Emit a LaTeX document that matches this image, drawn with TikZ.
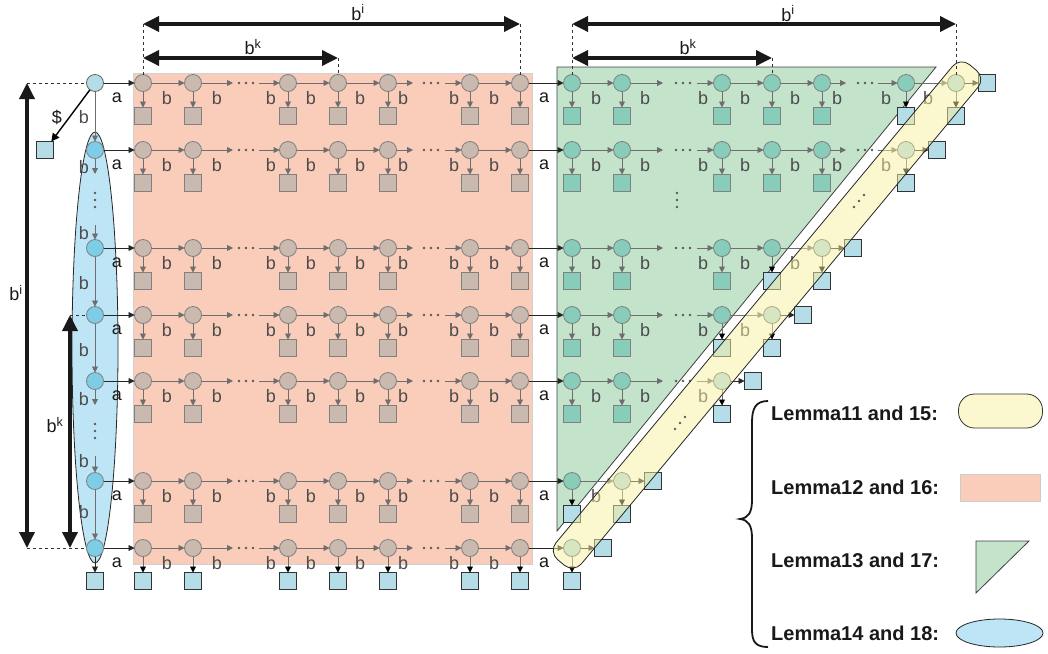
\documentclass[tikz,border=0pt]{standalone}
\usepackage{fontspec}
\setmainfont{Liberation Sans}
\usetikzlibrary{arrows.meta,shapes.geometric,calc}
\definecolor{pinkbg}{HTML}{F9CDB9}
\definecolor{taupe}{HTML}{C9B9AF}
\definecolor{greenbg}{HTML}{C3E3CB}
\definecolor{tealc}{HTML}{88CCBA}
\definecolor{lblue}{HTML}{B5DDE8}
\definecolor{ellbg}{HTML}{BEE5F6}
\definecolor{ellblue}{HTML}{7DCDE6}
\definecolor{bandy}{HTML}{F7EF9F}
\definecolor{bandleg}{HTML}{FBF7CF}
\definecolor{linegray}{HTML}{6E6E6E}
\tikzset{
 nb/.style={inner sep=0pt, outer sep=0pt, line width=0.8pt},
 circp/.style={nb, circle, minimum size=17pt, fill=taupe, draw=black!50},
 circg/.style={nb, circle, minimum size=17pt, fill=tealc, draw=black!50},
 circb/.style={nb, circle, minimum size=17pt, fill=lblue, draw=black!60},
 circe/.style={nb, circle, minimum size=17pt, fill=ellblue, draw=black!50},
 sqp/.style={nb, rectangle, minimum size=17pt, fill=taupe, draw=black!50},
 sqg/.style={nb, rectangle, minimum size=17pt, fill=tealc, draw=black!50},
 sqb/.style={nb, rectangle, minimum size=17pt, fill=lblue, draw=black!80},
 arr/.style={draw=linegray, line width=0.9pt, -{Triangle[length=6pt,width=6pt]}},
 arrbk/.style={draw=linegray, line width=0.9pt, -{Triangle[length=6pt,width=6pt,color=black]}},
 arrk/.style={draw=black!85, line width=0.9pt, -{Triangle[length=6pt,width=6pt]}},
 lbl/.style={font=\fontsize{18}{18}\selectfont, text=black!70, inner sep=0pt},
 lbla/.style={font=\fontsize{18}{18}\selectfont, text=black!90, inner sep=0pt},
 dimarrow/.style={line width=3.5pt, black!90, {Triangle[length=16pt,width=15pt]}-{Triangle[length=16pt,width=15pt]}},
 dashln/.style={black!80, line width=0.8pt, dash pattern=on 3pt off 3pt},
 leg/.style={font=\fontsize{20}{20}\selectfont\bfseries, text=black!90, anchor=west, inner sep=0pt},
}
\newcommand\hdt[2]{\fill[black!65] (#1-7,#2) circle[radius=1.3pt] (#1,#2) circle[radius=1.3pt] (#1+7,#2) circle[radius=1.3pt];}
\newcommand\vdt[2]{\fill[black!65] (#1,#2-7) circle[radius=1.3pt] (#1,#2) circle[radius=1.3pt] (#1,#2+7) circle[radius=1.3pt];}
\newcommand\ddt[2]{\fill[black!65] (#1-5,#2+6) circle[radius=1.3pt] (#1,#2) circle[radius=1.3pt] (#1+5,#2-6) circle[radius=1.3pt];}
\begin{document}
\begin{tikzpicture}[x=1pt,y=-1pt]
\useasboundingbox (0,0) rectangle (1048,653);
% regions
\filldraw[fill=pinkbg, draw=black!18, line width=0.8pt] (133,73) rectangle (532,564);
\filldraw[fill=greenbg, draw=black!75, line width=0.8pt] (557,67) -- (936,67) -- (557,531) -- cycle;
\node[ellipse, fill=ellbg, draw=black!85, line width=0.8pt, minimum width=46pt, minimum height=431pt, inner sep=0pt] (lem14) at (95,347.5) {};

% pink grid
\foreach \y [count=\ri from 0] in {83,150,248,315,381,481,548} {
  \foreach \x [count=\ci from 0] in {143,193,288,338,388,470,520} {
    \node[circp] (p\ri\ci) at (\x,\y) {};
    \ifnum\ri=6
      \node[sqb] (sp\ri\ci) at (\x,\y+33) {};
      \draw[arrbk] (p\ri\ci) -- (sp\ri\ci);
    \else
      \node[sqp] (sp\ri\ci) at (\x,\y+33) {};
      \draw[arr] (p\ri\ci) -- (sp\ri\ci);
    \fi
  }
  \coordinate (pda\ri) at (233,\y);
  \coordinate (pdb\ri) at (259,\y);
  \coordinate (pdc\ri) at (413,\y);
  \coordinate (pdd\ri) at (445,\y);
  \draw[arr] (p\ri0) -- (p\ri1);
  \draw[arr] (p\ri1) -- (pda\ri);
  \draw[arr] (pdb\ri) -- (p\ri2);
  \draw[arr] (p\ri2) -- (p\ri3);
  \draw[arr] (p\ri3) -- (p\ri4);
  \draw[arr] (p\ri4) -- (pdc\ri);
  \draw[arr] (pdd\ri) -- (p\ri5);
  \draw[arr] (p\ri5) -- (p\ri6);
  \hdt{246}{\y}
  \hdt{431}{\y}
  \foreach \lx in {167,217,271,311,360,403,454,494} {
    \node[lbl] (bp\ri-\lx) at (\lx,\y+15) {b};
  }
}

% green grid
\foreach \y [count=\ri from 0] in {83,150,248,315,381,481,548} {
  \pgfmathtruncatemacro\m{6-\ri}
  \pgfmathtruncatemacro\mm{{5,5,3,2,2,0,0}[\ri]}
  \foreach \x [count=\ci from 0] in {572,622,722,772,822,906,956} {
    \ifnum\ci>\m\relax\else
      \ifnum\ci=\m\relax
        \node[circb] (g\ri\ci) at (\x,\y) {};
      \else
        \node[circg] (g\ri\ci) at (\x,\y) {};
      \fi
      \ifnum\ci<\mm\relax
        \node[sqg] (sg\ri\ci) at (\x,\y+33) {};
        \draw[arr] (g\ri\ci) -- (sg\ri\ci);
      \else
        \node[sqb] (sg\ri\ci) at (\x,\y+33) {};
        \draw[arrbk] (g\ri\ci) -- (sg\ri\ci);
      \fi
    \fi
  }
  \ifnum\m>0\relax
    \draw[arr] (g\ri0) -- (g\ri1);
    \node[lbl] (bg\ri-0) at (596,\y+15) {b};
  \fi
  \ifnum\m>1\relax
    \coordinate (gda\ri) at (663,\y);
    \coordinate (gdb\ri) at (697,\y);
    \draw[arr] (g\ri1) -- (gda\ri);
    \draw[arr] (gdb\ri) -- (g\ri2);
    \hdt{683}{\y}
    \node[lbl] (bg\ri-1) at (645,\y+15) {b};
    \node[lbl] (bg\ri-2) at (703,\y+15) {b};
  \fi
  \ifnum\m>2\relax
    \draw[arr] (g\ri2) -- (g\ri3);
    \node[lbl] (bg\ri-3) at (745,\y+15) {b};
  \fi
  \ifnum\m>3\relax
    \draw[arr] (g\ri3) -- (g\ri4);
    \node[lbl] (bg\ri-4) at (795,\y+15) {b};
  \fi
  \ifnum\m>4\relax
    \coordinate (gdc\ri) at (846,\y);
    \coordinate (gdd\ri) at (878,\y);
    \draw[arr] (g\ri4) -- (gdc\ri);
    \draw[arr] (gdd\ri) -- (g\ri5);
    \hdt{865}{\y}
    \node[lbl] (bg\ri-5) at (837,\y+15) {b};
    \node[lbl] (bg\ri-6) at (886,\y+15) {b};
  \fi
  \ifnum\m>5\relax
    \draw[arr] (g\ri5) -- (g\ri6);
    \node[lbl] (bg\ri-7) at (928,\y+15) {b};
  \fi
  \node[sqb] (sr\ri) at ($(g\ri\m)+(31,0)$) {};
  \draw[arrk] (g\ri\m) -- (sr\ri);
  \draw[arrk] (p\ri6) -- (g\ri0);
  \node[lbla] (am\ri) at (544,\y+15) {a};
}

% left column
\foreach \y [count=\ri from 0] in {83,150,248,315,381,481,548} {
  \ifnum\ri=0
    \node[circb] (L\ri) at (95,\y) {};
  \else
    \node[circe] (L\ri) at (95,\y) {};
  \fi
  \draw[arrk] (L\ri) -- (p\ri0);
  \node[lbla] (al\ri) at (117,\y+15) {a};
}
\coordinate (lc1) at (95,174);
\coordinate (lc2) at (95,225);
\coordinate (lc3) at (95,405);
\coordinate (lc4) at (95,456);
\draw[arr] (L0) -- (L1);
\draw[arr] (L1) -- (lc1);
\draw[arr] (lc2) -- (L2);
\draw[arr] (L2) -- (L3);
\draw[arr] (L3) -- (L4);
\draw[arr] (L4) -- (lc3);
\draw[arr] (lc4) -- (L5);
\draw[arr] (L5) -- (L6);
\vdt{95}{200}
\vdt{95}{431}
\node[lbl] (bl0) at (84,117) {b};
\node[lbl] (bl1) at (84,167) {b};
\node[lbl] (bl2) at (84,233) {b};
\node[lbl] (bl3) at (84,283) {b};
\node[lbl] (bl4) at (84,350) {b};
\node[lbl] (bl5) at (84,399) {b};
\node[lbl] (bl6) at (84,461) {b};
\node[lbl] (bl7) at (84,512) {b};
\node[sqb] (sL) at (95,581) {};
\draw[arrk] (L6) -- (sL);
\node[sqb] (sD) at (45,150) {};
\draw[black, line width=1.4pt, -{Triangle[length=8pt,width=8pt]}] (L0) -- (sD);
\node[lbla] (dl) at (57,117) {\$};

% green vertical dots
\vdt{677}{200}

% band (Lemma 11/15) overlay
\node[rectangle, rotate=50.23, minimum width=644pt, minimum height=33pt, rounded corners=12pt, fill=bandy, fill opacity=0.5, draw=black!85, line width=0.8pt, inner sep=0pt] (lem11) at (767,315) {};
\ddt{859}{201}
\ddt{680}{423}

% dimension arrows
\coordinate (d1a) at (143,24); \coordinate (d1b) at (520,24);
\coordinate (d2a) at (143,58); \coordinate (d2b) at (338,58);
\coordinate (d3a) at (572,24); \coordinate (d3b) at (956,24);
\coordinate (d4a) at (572,58); \coordinate (d4b) at (772,58);
\draw[dashln] (d1a) -- (p00.north);
\draw[dashln] (d1b) -- (p06.north);
\draw[dashln] (d2b) -- (p03.north);
\draw[dashln] (d3a) -- (g00.north);
\draw[dashln] (d3b) -- (g06.north);
\draw[dashln] (d4b) -- (g03.north);
\draw[dimarrow] (d1a) -- (d1b);
\draw[dimarrow] (d2a) -- (d2b);
\draw[dimarrow] (d3a) -- (d3b);
\draw[dimarrow] (d4a) -- (d4b);
\node[lbla] (t1) at (358,12.5) {b\textsuperscript{i}};
\node[lbla] (t2) at (253,47) {b\textsuperscript{k}};
\node[lbla] (t3) at (788,13.5) {b\textsuperscript{i}};
\node[lbla] (t4) at (688,47) {b\textsuperscript{k}};

\coordinate (v1a) at (27,83); \coordinate (v1b) at (27,548);
\coordinate (v2a) at (70,315); \coordinate (v2b) at (70,548);
\draw[dashln] (v1a) -- (L0.west);
\draw[dashln] (v1b) -- (L6.west);
\draw[dashln] (v2a) -- (L3.west);
\draw[dimarrow] (v1a) -- (v1b);
\draw[dimarrow] (v2a) -- (v2b);
\node[lbla] (t5) at (16,293) {b\textsuperscript{i}};
\node[lbla] (t6) at (55,425) {b\textsuperscript{k}};

% legend
\draw[line width=1.8pt, black!90] (768,401) .. controls (756,401) and (752,408) .. (752,422) -- (752,500) .. controls (752,513) and (748,518) .. (740,519) .. controls (748,520) and (752,525) .. (752,538) -- (752,630) .. controls (752,642) and (756,647) .. (768,647);
\node[leg] (lg1) at (771,413) {Lemma11 and 15:};
\node[leg] (lg2) at (771,487) {Lemma12 and 16:};
\node[leg] (lg3) at (771,560) {Lemma13 and 17:};
\node[leg] (lg4) at (771,633) {Lemma14 and 18:};
\node[rectangle, rounded corners=16pt, minimum width=84pt, minimum height=34pt, fill=bandleg, draw=black!80, line width=0.8pt, inner sep=0pt] (k11) at (1000.5,411) {};
\node[rectangle, minimum width=80pt, minimum height=27pt, fill=pinkbg, draw=black!20, line width=0.8pt, inner sep=0pt] (k12) at (1000,487.5) {};
\filldraw[fill=greenbg, draw=black!75, line width=0.8pt] (976,541) -- (1029,541) -- (976,593) -- cycle;
\node[ellipse, minimum width=87pt, minimum height=28pt, fill=ellbg, draw=black!85, line width=0.8pt, inner sep=0pt] (k14) at (999.5,633) {};
\end{tikzpicture}
\end{document}
